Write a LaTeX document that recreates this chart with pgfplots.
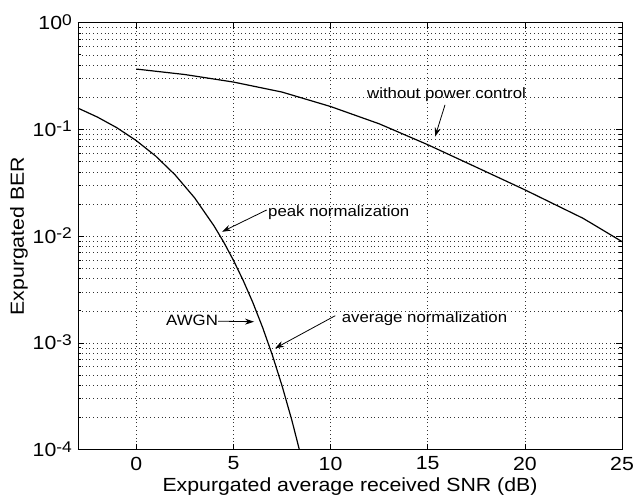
\documentclass[border=0pt]{standalone}
\usepackage{fontspec}
\setmainfont[FakeStretch=1.12]{Liberation Sans}
\usepackage{pgfplots}
\pgfplotsset{compat=1.18}
\usetikzlibrary{arrows.meta}
\newcommand{\ep}[1]{10\raisebox{4.5pt}{\fontsize{15.5}{18}\selectfont#1}}
\begin{document}
\begin{tikzpicture}[font=\fontsize{19}{23}\selectfont]
\begin{axis}[
  at={(0,0)}, anchor=south west,
  scale only axis, width=544pt, height=427pt,
  xmin=-3, xmax=25, ymode=log, ymin=1e-4, ymax=1,
  xtick={0,5,10,15,20,25}, xticklabels={0,5,10,15,20,25},
  ytick={1e-4,1e-3,1e-2,1e-1,1},
  yticklabels={\ep{-4},\ep{-3},\ep{-2},\ep{-1},\ep{0}},
  minor ytick={2e-4,3e-4,4e-4,5e-4,6e-4,7e-4,8e-4,9e-4,
               2e-3,3e-3,4e-3,5e-3,6e-3,7e-3,8e-3,9e-3,
               2e-2,3e-2,4e-2,5e-2,6e-2,7e-2,8e-2,9e-2,
               2e-1,3e-1,4e-1,5e-1,6e-1,7e-1,8e-1,9e-1},
  xmajorgrids, ymajorgrids, yminorgrids,
  major grid style={dash pattern=on 0.8pt off 3pt, black!80, line width=0.6pt},
  minor grid style={dash pattern=on 0.8pt off 3pt, black!80, line width=0.6pt},
  tick align=inside, major tick length=6pt, minor tick length=3.5pt,
  every tick/.style={black, line width=0.7pt},
  axis line style={line width=0.9pt},
  xticklabel style={anchor=north, inner sep=0pt},
  xticklabel shift=7pt,
  yticklabel style={anchor=base east, inner sep=0pt, yshift=-6.8pt},
  yticklabel shift=6pt,
  xlabel={Expurgated average received SNR (dB)},
  ylabel={Expurgated BER},
  xlabel style={at={(axis description cs:0.5,-0.0656)}, anchor=north, inner sep=0pt},
  ylabel style={at={(axis description cs:-0.092,0.5)}, anchor=south, inner sep=0pt},
]
% AWGN / power-controlled curve
\addplot[black, line width=1.2pt] coordinates {
(-3,0.1584) (-2,0.1306) (-1,0.1038) (0,0.0786) (1,0.0563) (2,0.0375)
(3,0.0229) (4,0.0125) (4.5,0.0088) (5,0.00595) (5.5,0.00386) (6,0.00239)
(6.5,0.0014) (7,0.000773) (7.5,0.000398) (8,0.000191) (8.5,0.000084)
};
% without power control
\addplot[black, line width=1.2pt] coordinates {
(0,0.368) (2.5,0.327) (5,0.278) (7.5,0.224) (10,0.164) (12.5,0.113)
(15,0.072) (17.5,0.0443) (20,0.0272) (23,0.0147) (25,0.0089)
};
\begin{scope}[every node/.style={font=\fontsize{15}{18}\selectfont, inner sep=0pt}]
\node at (axis cs:15.97,0.21) {without power control};
\draw[line width=0.8pt, -{Stealth[length=9pt,width=6pt]}] (axis cs:15.89,0.17) -- (axis cs:15.38,0.0857);
\node[anchor=west] at (axis cs:6.78,0.0166) {peak normalization};
\draw[line width=0.8pt, -{Stealth[length=9pt,width=6pt]}] (axis cs:6.71,0.0176) -- (axis cs:4.41,0.011);
\node[anchor=east] at (axis cs:4.21,0.00164) {AWGN};
\draw[line width=0.8pt, -{Stealth[length=9pt,width=6pt]}] (axis cs:4.21,0.0016) -- (axis cs:6.06,0.00158);
\node[anchor=west] at (axis cs:10.57,0.0017) {average normalization};
\draw[line width=0.8pt, -{Stealth[length=9pt,width=6pt]}] (axis cs:10.24,0.0018) -- (axis cs:7.14,0.00089);
\end{scope}
\end{axis}
\pgfresetboundingbox
\path[use as bounding box] (-78pt,-51pt) rectangle (556pt,449.7pt);
\end{tikzpicture}
\end{document}
